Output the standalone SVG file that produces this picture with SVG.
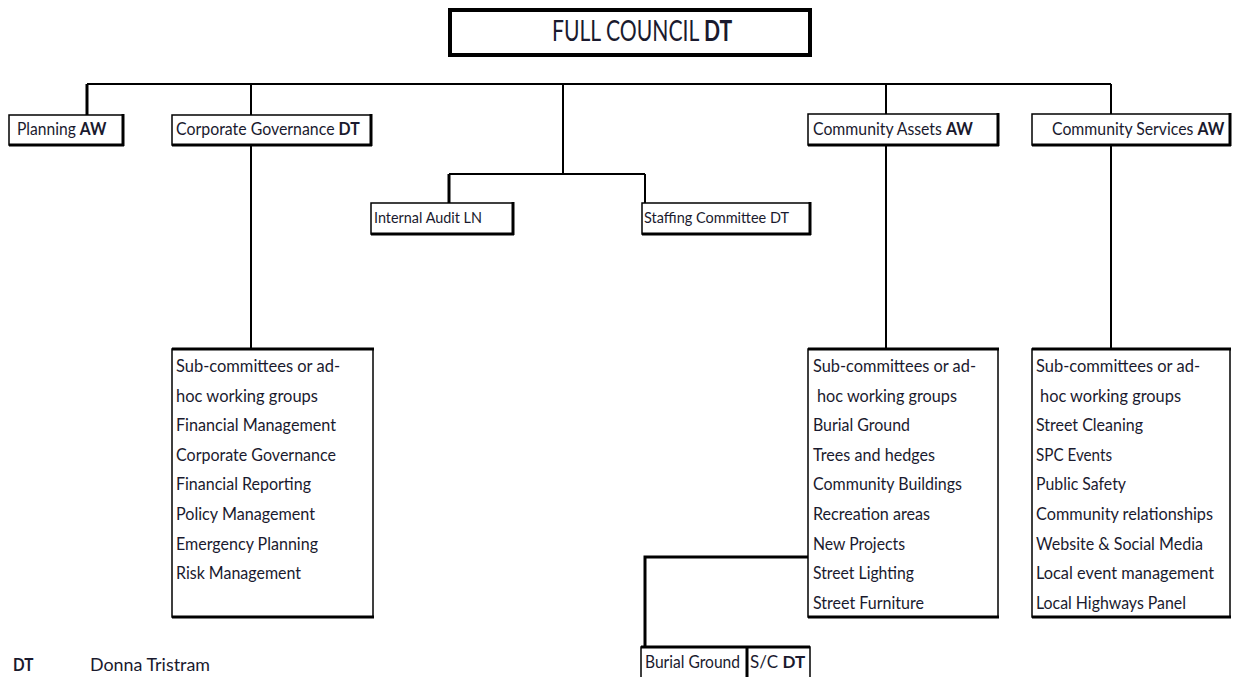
<svg xmlns="http://www.w3.org/2000/svg" width="1236" height="677" viewBox="0 0 1236 677">
<style>
text{font-family:Lato,"Noto Sans","Liberation Sans",sans-serif;font-size:17px;fill:#1a1a2e}
.b{font-weight:bold}
.box{fill:#fff;stroke:#000;stroke-width:1.5}
.sh{stroke:#000;stroke-width:3;fill:none}
.ln{stroke:#000;stroke-width:2;fill:none}
.lt{stroke:#000;stroke-width:3;fill:none}
</style>
<rect width="1236" height="677" fill="#fff"/>
<g id="connectors">
<path class="ln" d="M87 84H1111M251 84V115M251 145V349M886 84V114M886 145V349M1111 84V114M1111 145V349"/>
<path class="lt" d="M87 84V115"/>
<path class="ln" d="M563 84V175" stroke-width="2.5"/>
<path class="ln" d="M449 174H645M645 174V203"/>
<path class="lt" d="M449 174V203"/>
<path class="lt" d="M808 557H645V647"/>
</g>
<g id="full-council">
<rect x="450" y="10" width="360" height="45" fill="#fff" stroke="#000" stroke-width="4"/>
<text transform="translate(552,41) scale(0.755,1)" style="font-size:28px">FULL COUNCIL <tspan class="b">DT</tspan></text>
</g>
<g id="planning">
<rect class="box" x="9" y="115" width="114" height="30"/>
<path class="sh" d="M123 114V146M9 145H124" stroke-width="2.5"/>
<text transform="translate(17,135) scale(0.92,1)">Planning <tspan class="b">AW</tspan></text>
</g>
<g id="corporate-governance">
<rect class="box" x="172" y="115" width="199" height="30"/>
<path class="sh" d="M371 114V146M172 145H372" stroke-width="2.5"/>
<text transform="translate(176,135) scale(0.935,1)">Corporate Governance <tspan class="b">DT</tspan></text>
</g>
<g id="internal-audit">
<rect class="box" x="371" y="203" width="142" height="31"/>
<path class="sh" d="M513 202V235M371 234H514" stroke-width="2.5"/>
<text x="374" y="223" style="font-size:16px" textLength="108" lengthAdjust="spacingAndGlyphs">Internal Audit LN</text>
</g>
<g id="staffing-committee">
<rect class="box" x="642" y="203" width="168" height="31"/>
<path class="sh" d="M810 202V235M642 234H811" stroke-width="2.5"/>
<text x="644" y="223" style="font-size:16px" textLength="145" lengthAdjust="spacingAndGlyphs">Staffing Committee DT</text>
</g>
<g id="community-assets">
<rect class="box" x="808" y="114" width="190" height="31"/>
<path class="sh" d="M998 113V146M808 145H999" stroke-width="2.5"/>
<text transform="translate(813,135) scale(0.93,1)">Community Assets <tspan class="b">AW</tspan></text>
</g>
<g id="community-services">
<rect class="box" x="1032" y="114" width="198" height="31"/>
<path class="sh" d="M1230 113V146M1032 145H1231" stroke-width="2.5"/>
<text transform="translate(1052,135) scale(0.93,1)">Community Services <tspan class="b">AW</tspan></text>
</g>
<g id="corporate-subgroups">
<rect class="box" x="172" y="349" width="201" height="268"/>
<path class="sh" d="M172 349H374M172 617H374"/>
<text x="176" y="372" textLength="164" lengthAdjust="spacingAndGlyphs">Sub-committees or ad-</text>
<text x="176" y="401.6" textLength="142" lengthAdjust="spacingAndGlyphs">hoc working groups</text>
<text x="176" y="431.2" textLength="160" lengthAdjust="spacingAndGlyphs">Financial Management</text>
<text x="176" y="460.8" textLength="160" lengthAdjust="spacingAndGlyphs">Corporate Governance</text>
<text x="176" y="490.4" textLength="135" lengthAdjust="spacingAndGlyphs">Financial Reporting</text>
<text x="176" y="520" textLength="139" lengthAdjust="spacingAndGlyphs">Policy Management</text>
<text x="176" y="549.6" textLength="142" lengthAdjust="spacingAndGlyphs">Emergency Planning</text>
<text x="176" y="579.2" textLength="125" lengthAdjust="spacingAndGlyphs">Risk Management</text>
</g>
<g id="assets-subgroups">
<rect class="box" x="808" y="349" width="190" height="268"/>
<path class="sh" d="M808 349H999M808 617H999"/>
<text x="813" y="372" textLength="163" lengthAdjust="spacingAndGlyphs">Sub-committees or ad-</text>
<text x="817" y="401.6" textLength="140" lengthAdjust="spacingAndGlyphs">hoc working groups</text>
<text x="813" y="431.2" textLength="97" lengthAdjust="spacingAndGlyphs">Burial Ground</text>
<text x="813" y="460.8" textLength="122" lengthAdjust="spacingAndGlyphs">Trees and hedges</text>
<text x="813" y="490.4" textLength="149" lengthAdjust="spacingAndGlyphs">Community Buildings</text>
<text x="813" y="520" textLength="117" lengthAdjust="spacingAndGlyphs">Recreation areas</text>
<text x="813" y="549.6" textLength="92" lengthAdjust="spacingAndGlyphs">New Projects</text>
<text x="813" y="579.2" textLength="101" lengthAdjust="spacingAndGlyphs">Street Lighting</text>
<text x="813" y="608.8" textLength="111" lengthAdjust="spacingAndGlyphs">Street Furniture</text>
</g>
<g id="services-subgroups">
<rect class="box" x="1032" y="349" width="198" height="268"/>
<path class="sh" d="M1032 349H1231M1032 617H1231"/>
<text x="1036" y="372" textLength="164" lengthAdjust="spacingAndGlyphs">Sub-committees or ad-</text>
<text x="1040" y="401.6" textLength="141" lengthAdjust="spacingAndGlyphs">hoc working groups</text>
<text x="1036" y="431.2" textLength="107" lengthAdjust="spacingAndGlyphs">Street Cleaning</text>
<text x="1036" y="460.8" textLength="76" lengthAdjust="spacingAndGlyphs">SPC Events</text>
<text x="1036" y="490.4" textLength="90" lengthAdjust="spacingAndGlyphs">Public Safety</text>
<text x="1036" y="520" textLength="177" lengthAdjust="spacingAndGlyphs">Community relationships</text>
<text x="1036" y="549.6" textLength="167" lengthAdjust="spacingAndGlyphs">Website &amp; Social Media</text>
<text x="1036" y="579.2" textLength="178" lengthAdjust="spacingAndGlyphs">Local event management</text>
<text x="1036" y="608.8" textLength="150" lengthAdjust="spacingAndGlyphs">Local Highways Panel</text>
</g>
<g id="burial-ground">
<rect class="box" x="641" y="647" width="106" height="40"/>
<rect class="box" x="747" y="647" width="63" height="40"/>
<path class="sh" d="M641 647H810M747 647V677"/>
<text x="645" y="668" textLength="95" lengthAdjust="spacingAndGlyphs">Burial Ground</text>
<text transform="translate(750,668)">S/C <tspan class="b">DT</tspan></text>
</g>
<g id="legend">
<text x="13" y="671" class="b" transform="translate(13,0) scale(0.9,1) translate(-13,0)">DT</text>
<text x="90" y="671" textLength="120" lengthAdjust="spacingAndGlyphs">Donna Tristram</text>
</g>
</svg>
